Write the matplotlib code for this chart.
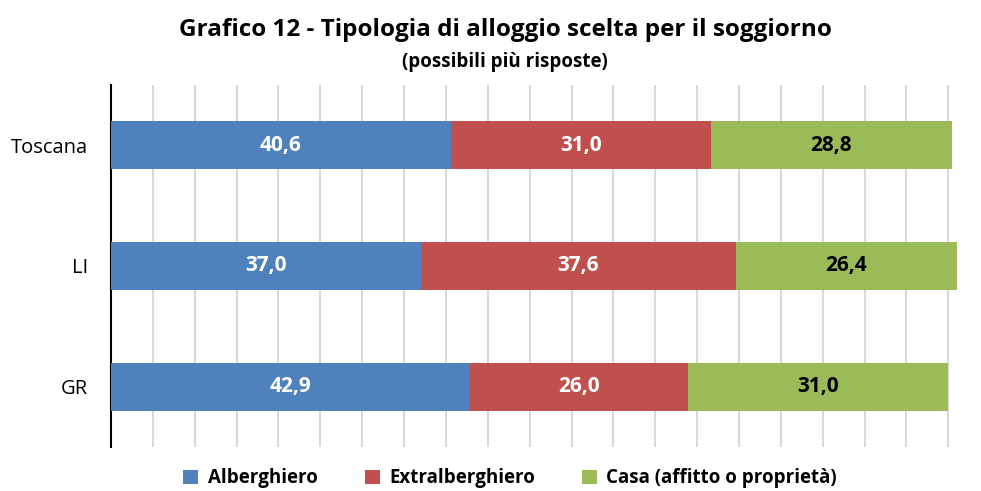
import matplotlib.pyplot as plt
import numpy as np

plt.rcParams['font.family'] = ['Open Sans', 'DejaVu Sans']

# Data
categories = ["Toscana", "LI", "GR"]
series_names = ["Alberghiero", "Extralberghiero", "Casa (affitto o proprietà)"]
alberghiero = [40.6, 37.0, 42.9]
extralberghiero = [31.0, 37.6, 26.0]
casa = [28.8, 26.4, 31.0]

colors = ["#4F81BD", "#C0504D", "#9BBB59"]
label_colors = ["white", "white", "black"]

fig = plt.figure(figsize=(9.81, 4.91), dpi=100)
ax = fig.add_axes([0.1131, 0.0896, 0.869, 0.7373])

y = np.arange(len(categories))[::-1]
left = np.zeros(len(categories))
for vals, name, col, lc in zip([alberghiero, extralberghiero, casa], series_names, colors, label_colors):
    vals = np.array(vals)
    bars = ax.barh(y, vals, left=left, height=0.4, color=col, label=name, zorder=3)
    for b, v in zip(bars, vals):
        ax.text(b.get_x() + b.get_width() / 2, b.get_y() + b.get_height() / 2,
                f"{v:.1f}".replace(".", ","), ha="center", va="center",
                color=lc, fontsize=15, fontweight="bold", zorder=4)
    left += vals

ax.set_xlim(0, 101.8)
ax.set_ylim(-0.5, 2.5)
ax.set_xticks(np.arange(5, 101, 5))
ax.xaxis.grid(True, color="#D9D9D9", linewidth=1.5, zorder=0)
ax.tick_params(axis="x", length=0, labelbottom=False)
ax.tick_params(axis="y", length=0, pad=16.5, labelsize=14.5)
ax.set_yticks(y)
ax.set_yticklabels(categories)
for s in ["top", "right", "bottom"]:
    ax.spines[s].set_visible(False)
ax.spines["left"].set_color("black")
ax.spines["left"].set_linewidth(1.5)

fig.text(0.515, 0.939, "Grafico 12 - Tipologia di alloggio scelta per il soggiorno",
         ha="center", va="center", fontsize=17.5, fontweight="bold")
fig.text(0.515, 0.874, "(possibili più risposte)", ha="center", va="center",
         fontsize=13.5, fontweight="bold")

fig.legend(loc="center", bbox_to_anchor=(0.52, 0.026), ncol=3, frameon=False,
           prop={"size": 13.5, "weight": "bold"}, handlelength=0.8, handleheight=0.8,
           columnspacing=2.5, handletextpad=0.5)

fig.savefig("out.png", dpi=100)
